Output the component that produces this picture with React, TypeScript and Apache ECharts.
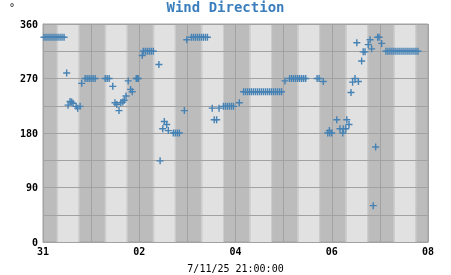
import React, { useEffect, useRef } from 'react';
import * as echarts from 'echarts';

// hours since 31 00:00
const hours = [
  0.5, 1.5, 2.5, 3.5, 4.5, 5.5, 6.5, 7.5, 8.5, 9.5, 10.5,
  11.8, 12.5, 13.5, 14.3, 15.0, 16.5, 17.3, 18.5, 19.3,
  21, 22, 23, 24, 25, 26,
  31, 32, 33, 34.8,
  35.9, 36.8, 37.9, 38.8, 39.8, 40.5, 41.4, 42.5, 43.7, 44.5,
  46.5, 47, 47.5, 49.5,
  50, 51, 52, 53, 54, 55,
  57.8, 58.4, 59.7, 60.5, 61.7, 62.5,
  65, 66, 67, 68, 70.5, 71.7,
  74, 75, 76, 77, 78, 79, 80, 81, 82,
  84.4, 85.4, 86.6, 87.8,
  90, 91, 92, 93, 94, 95, 97.9,
  100, 101, 102, 103, 104, 105, 106, 107, 108, 109, 110, 111, 112, 113, 114, 115, 116, 117, 118, 119,
  120.7,
  123, 124, 125, 126, 127, 128, 129, 130, 131,
  136.7, 137.7, 139.8,
  142, 142.8, 143, 144,
  146.5, 148.1, 149.5, 149.8, 151.0, 151.5, 152.6,
  153.6, 154.4, 155.6, 156.5, 157.3, 158.9, 159.7, 160.6,
  162.2, 163.1, 163.9, 164.7, 165.9, 166.9, 167.6, 168.9,
  171, 172, 173, 174, 175, 176, 177, 178, 179, 180, 181, 182, 183, 184, 185, 186, 187,
];

const degrees = [
  338, 338, 338, 338, 338, 338, 338, 338, 338, 338, 338,
  279, 226, 232, 231, 229, 224, 221, 224, 262,
  270, 270, 270, 270, 270, 270,
  270, 270, 270, 257,
  230, 227, 217, 230, 231, 234, 241, 266, 252, 248,
  270, 270, 270, 308,
  315, 315, 315, 315, 315, 315,
  293, 134, 187, 199, 194, 184,
  180, 180, 180, 180, 217, 334,
  338, 338, 338, 338, 338, 338, 338, 338, 338,
  221, 202, 202, 221,
  224, 224, 224, 224, 224, 224, 230,
  248, 248, 248, 248, 248, 248, 248, 248, 248, 248, 248, 248, 248, 248, 248, 248, 248, 248, 248, 248,
  266,
  270, 270, 270, 270, 270, 270, 270, 270, 270,
  270, 270, 265,
  180, 184, 180, 180,
  202, 187, 180, 187, 187, 202, 194,
  247, 264, 270, 329, 265, 299, 314, 314,
  326, 334, 319, 60, 157, 338, 338, 328,
  315, 315, 315, 315, 315, 315, 315, 315, 315, 315, 315, 315, 315, 315, 315, 315, 315,
];

const dayLabels = ['31', '01', '02', '03', '04', '05', '06', '07', '08'];
const yTickLabels = ['0', '90', '180', '270', '360'];

// hour-of-day for the daylight shading
const dawnHour = [6.75];
const sunriseHour = [7.5];
const sunsetHour = [17.75];
const duskHour = [18.25];

const DARK = '#bcbcbc';
const MID = '#cecece';
const LIGHT = '#e1e1e1';
const GRIDLINE = '#a2a2a2';
const BLUE = '#4682b4';
const MONO = '"DejaVu Sans Mono", monospace';

const PLUS = 'path://M4,0h2v4h4v2h-4v4h-2v-4h-4v-2h4z';

export default function App() {
  const ref = useRef<HTMLDivElement>(null);

  useEffect(() => {
    if (!ref.current) return;
    const chart = echarts.init(ref.current, null, { renderer: 'svg' });

    const bands: number[][] = [];
    for (let d = 0; d < dayLabels.length - 1; d++) {
      const base = d * 24;
      bands.push([base + dawnHour[0], base + sunriseHour[0], 0, 360, 1]);
      bands.push([base + sunriseHour[0], base + sunsetHour[0], 0, 360, 2]);
      bands.push([base + sunsetHour[0], base + duskHour[0], 0, 360, 1]);
    }

    const points = hours.map((h, i) => [h, degrees[i]]);

    chart.setOption({
      animation: false,
      title: {
        text: 'Wind Direction',
        left: 'center',
        top: 0,
        padding: [0, 0, 0, 0],
        textStyle: {
          color: '#3a7ebd',
          fontFamily: MONO,
          fontWeight: 'bold',
          fontSize: 14,
        },
      },
      grid: {
        left: 43,
        right: 23,
        top: 24,
        bottom: 33,
        show: true,
        outerBoundsMode: 'none',
        containLabel: false,
        backgroundColor: DARK,
        borderColor: GRIDLINE,
        borderWidth: 1,
        z: 0,
      },
      xAxis: {
        type: 'value',
        min: 0,
        max: 192,
        interval: 24,
        z: 2,
        name: '7/11/25 21:00:00',
        nameLocation: 'middle',
        nameGap: 21,
        nameTextStyle: { color: '#000', fontFamily: MONO, fontSize: 10 },
        axisLine: { show: true, lineStyle: { color: GRIDLINE } },
        axisTick: { show: false },
        splitLine: { show: true, lineStyle: { color: GRIDLINE, width: 1 } },
        axisLabel: {
          margin: 4,
          color: '#000',
          fontFamily: MONO,
          fontWeight: 'bold',
          fontSize: 10,
          formatter: (v: number) => {
            const i = Math.round(v / 24);
            return i % 2 === 0 ? dayLabels[i] : '';
          },
        },
      },
      yAxis: {
        type: 'value',
        min: 0,
        max: 360,
        interval: 45,
        z: 2,
        name: '°',
        nameLocation: 'end',
        nameGap: 12,
        nameTextStyle: {
          color: '#000',
          fontFamily: MONO,
          fontSize: 10,
          align: 'right',
          padding: [0, 28, 0, 0],
        },
        axisLine: { show: true, lineStyle: { color: GRIDLINE } },
        axisTick: { show: false },
        splitLine: { show: true, lineStyle: { color: GRIDLINE, width: 1 } },
        axisLabel: {
          margin: 5,
          color: '#000',
          fontFamily: MONO,
          fontWeight: 'bold',
          fontSize: 10,
          formatter: (v: number) => (v % 90 === 0 ? yTickLabels[v / 90] : ''),
        },
      },
      series: [
        {
          type: 'custom',
          z: 1,
          silent: true,
          data: bands,
          encode: { x: [0, 1], y: [2, 3] },
          renderItem: (params: any, api: any) => {
            const s = api.coord([api.value(0), api.value(3)]);
            const e = api.coord([api.value(1), api.value(2)]);
            return {
              type: 'rect',
              shape: { x: s[0], y: s[1], width: e[0] - s[0], height: e[1] - s[1] },
              style: { fill: api.value(4) === 2 ? LIGHT : MID },
            };
          },
        },
        {
          type: 'scatter',
          z: 3,
          data: points,
          symbol: PLUS,
          symbolSize: 7,
          itemStyle: { color: BLUE, opacity: 1 },
        },
      ],
    });

    return () => chart.dispose();
  }, []);

  return (
    <div
      ref={ref}
      style={{ position: 'fixed', left: 0, top: 0, width: 451, height: 275 }}
    />
  );
}
